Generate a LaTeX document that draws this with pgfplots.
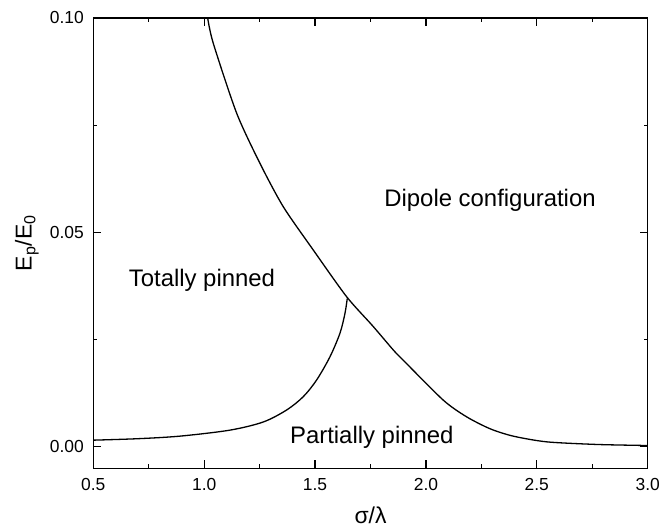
\documentclass[border=0pt]{standalone}
\usepackage{fontspec}
\setmainfont{Liberation Sans}
\usepackage{pgfplots}
\pgfplotsset{compat=1.18}
\begin{document}
\begin{tikzpicture}
\begin{axis}[
    name=ax,
    scale only axis,
    width=554.4bp, height=450.3bp,
    xmin=0.5, xmax=3.0,
    ymin=-0.005, ymax=0.10,
    xtick={0.5,1.0,1.5,2.0,2.5,3.0},
    xticklabels={0.5,1.0,1.5,2.0,2.5,3.0},
    minor xtick={0.75,1.25,1.75,2.25,2.75},
    ytick={0,0.05,0.10},
    yticklabels={0.00,0.05,0.10},
    minor ytick={0.025,0.075},
    tick align=inside,
    major tick length=8bp,
    minor tick length=4bp,
    axis line style={line width=1.4bp},
    every tick/.style={line width=1.2bp, black},
    every tick label/.append style={font=\fontsize{17.5}{20}\selectfont},
    xticklabel style={yshift=-7bp},
    yticklabel style={xshift=-6bp},
    xlabel={σ/λ},
    ylabel={E\textsubscript{p}/E\textsubscript{0}},
    xlabel style={font=\fontsize{23}{27}\selectfont, at={(axis description cs:0.5,-0.104)}, anchor=center},
    ylabel style={font=\fontsize{23}{27}\selectfont, at={(axis description cs:-0.12,0.5)}, anchor=center},
    scaled y ticks=false,
    clip=true,
]
% phase boundary: totally/partially pinned vs dipole configuration
\addplot[black, line width=1.3bp, smooth, tension=0.45] coordinates {
    (1.0158,0.1000) (1.0410,0.0941) (1.1465,0.0778) (1.2516,0.0661)
    (1.3566,0.0560) (1.4919,0.0459) (1.6425,0.0350) (1.7600,0.0282)
    (1.8526,0.0226) (1.8977,0.0202) (2.0780,0.0109) (2.1835,0.0070)
    (2.2900,0.0042) (2.3936,0.0025) (2.5442,0.00117) (2.7696,0.00056)
    (2.9797,0.00033) (3.0000,0.0003)
};
% boundary: totally pinned vs partially pinned
\addplot[black, line width=1.3bp, smooth, tension=0.5] coordinates {
    (0.500,0.00156) (0.700,0.0019) (0.8909,0.0025) (1.1163,0.0039)
    (1.2665,0.0058) (1.3720,0.0086) (1.4468,0.0117) (1.5072,0.0156)
    (1.5672,0.0210) (1.6123,0.0265) (1.6348,0.0311) (1.6452,0.0346)
};
\node[font=\fontsize{24}{28}\selectfont] at (axis cs:2.289,0.0575) {Dipole configuration};
\node[font=\fontsize{24}{28}\selectfont] at (axis cs:0.99,0.0389) {Totally pinned};
\node[font=\fontsize{24}{28}\selectfont] at (axis cs:1.756,0.00226) {Partially pinned};
\end{axis}
\pgfresetboundingbox
\path (ax.south west) ++(-93.3bp,-60.7bp) rectangle ([shift={(23.3bp,18bp)}]ax.north east);
\end{tikzpicture}
\end{document}
